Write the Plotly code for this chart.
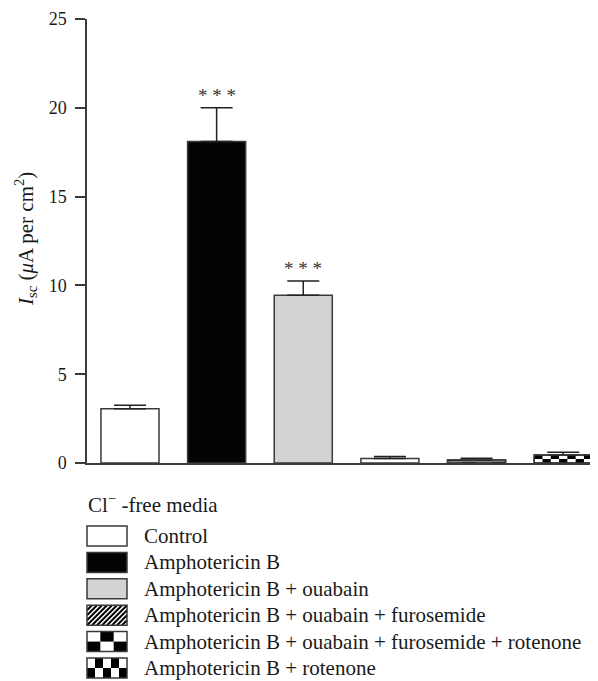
import plotly.graph_objects as go

# ---------------- data ----------------
categories = [
    "Control",
    "Amphotericin B",
    "Amphotericin B + ouabain",
    "Amphotericin B + ouabain + furosemide",
    "Amphotericin B + ouabain + furosemide + rotenone",
    "Amphotericin B + rotenone",
]
values = [3.05, 18.1, 9.45, 0.25, 0.17, 0.45]
errors = [0.2, 1.9, 0.8, 0.12, 0.1, 0.15]
significance = ["", "* * *", "* * *", "", "", ""]
fill_colors = ["white", "#030303", "#d3d3d3", "white", "white", "white"]
fills = ["solid", "solid", "solid", "hatch", "checker_large", "checker_small"]
y_ticks = [0, 5, 10, 15, 20, 25]
legend_title = "Cl<sup>−</sup> -free media"
y_title = "<i>I</i><sub>sc</sub> (<i>μ</i>A per cm<sup>2</sup>)"

# ---------------- layout constants ----------------
PAGE_OFF = 8                      # default body margin of the html page
W, H = 598 - PAGE_OFF, 681 - PAGE_OFF
# target positions (screen pixels) of the plot area
X_LEFT, X_RIGHT, Y_TOP, Y_BOTTOM = 87, 597, 19, 463
ML = X_LEFT - PAGE_OFF
MR = W - (X_RIGHT - PAGE_OFF)
MT = Y_TOP - PAGE_OFF
MB = H - (Y_BOTTOM - PAGE_OFF)
PW = W - ML - MR
PH = H - MT - MB
FONT = "Liberation Serif"
EDGE = "#3a3a3a"
TXT = "#1a1a1a"
BAR_W = 0.67


def px(x):
    return (x - X_LEFT) / PW


def py(y):
    return (Y_BOTTOM - y) / PH


fig = go.Figure()

pattern_shapes = ["/" if f == "hatch" else "" for f in fills]
fig.add_trace(go.Bar(
    x=categories,
    y=values,
    width=BAR_W,
    marker=dict(
        color=fill_colors,
        line=dict(color=EDGE, width=1.5),
        pattern=dict(shape=pattern_shapes, fgcolor="black", bgcolor="white",
                     fillmode="replace", size=6, solidity=0.4),
    ),
    error_y=dict(type="data", symmetric=False, array=errors,
                 arrayminus=[0] * len(values), color="#222", thickness=1.5, width=16),
    showlegend=False,
))

shapes = []
# checker fills on bars, computed from data values
for i, f in enumerate(fills):
    if f.startswith("checker"):
        cols = 4 if f == "checker_large" else 7
        rows = 2
        x0 = i - BAR_W / 2
        cw = BAR_W / cols
        ch = values[i] / rows
        for r in range(rows):
            for c in range(cols):
                if (r + c) % 2 == 1:
                    shapes.append(dict(type="rect", xref="x", yref="y",
                                       x0=x0 + c * cw, x1=x0 + (c + 1) * cw,
                                       y0=r * ch, y1=(r + 1) * ch,
                                       fillcolor="black", line=dict(width=0), layer="above"))
        shapes.append(dict(type="rect", xref="x", yref="y", x0=x0, x1=x0 + BAR_W,
                           y0=0, y1=values[i], line=dict(color=EDGE, width=1.5),
                           fillcolor="rgba(0,0,0,0)", layer="above"))

annotations = []
for i, s in enumerate(significance):
    if s:
        annotations.append(dict(x=categories[i], y=values[i] + errors[i], xref="x", yref="y",
                                text=s, showarrow=False, yanchor="bottom", yshift=0,
                                font=dict(family=FONT, size=19, color="#333")))

# y axis title
annotations.append(dict(x=px(25), y=py(239), xref="paper", yref="paper", text=y_title,
                        textangle=-90, showarrow=False, xanchor="center", yanchor="middle",
                        font=dict(family=FONT, size=21, color=TXT)))

# ---------------- custom legend ----------------
LX0, LX1 = 87, 127
SW_H = 20
ROW0, ROW_STEP = 536, 26.4
LEG_FS = 21
annotations.append(dict(x=px(86), y=py(503), xref="paper", yref="paper", text=legend_title,
                        showarrow=False, xanchor="left", yanchor="middle",
                        font=dict(family=FONT, size=LEG_FS, color=TXT)))

for k, (name, f, col) in enumerate(zip(categories, fills, fill_colors)):
    cy = ROW0 + k * ROW_STEP
    top, bot = cy - SW_H / 2, cy + SW_H / 2
    shapes.append(dict(type="rect", xref="paper", yref="paper", x0=px(LX0), x1=px(LX1),
                       y0=py(bot), y1=py(top), fillcolor=col, line=dict(width=0)))
    if f == "hatch":
        step = 5
        xs = LX0 - SW_H
        while xs < LX1:
            sx, sy = xs, bot
            ex, ey = xs + SW_H, top
            if sx < LX0:
                sy = bot - (LX0 - sx)
                sx = LX0
            if ex > LX1:
                ey = top + (ex - LX1)
                ex = LX1
            if ex > sx:
                shapes.append(dict(type="line", xref="paper", yref="paper",
                                   x0=px(sx), y0=py(sy), x1=px(ex), y1=py(ey),
                                   line=dict(color="black", width=2)))
            xs += step
    elif f.startswith("checker"):
        cols = 3 if f == "checker_large" else 5
        cw = (LX1 - LX0) / cols
        chh = SW_H / 2
        for r in range(2):
            for c in range(cols):
                if (r + c) % 2 == 1:
                    shapes.append(dict(type="rect", xref="paper", yref="paper",
                                       x0=px(LX0 + c * cw), x1=px(LX0 + (c + 1) * cw),
                                       y0=py(top + r * chh + chh), y1=py(top + r * chh),
                                       fillcolor="black", line=dict(width=0)))
    shapes.append(dict(type="rect", xref="paper", yref="paper", x0=px(LX0), x1=px(LX1),
                       y0=py(bot), y1=py(top), fillcolor="rgba(0,0,0,0)",
                       line=dict(color=EDGE, width=1.5)))
    annotations.append(dict(x=px(142), y=py(cy), xref="paper", yref="paper", text=name,
                            showarrow=False, xanchor="left", yanchor="middle",
                            font=dict(family=FONT, size=LEG_FS, color=TXT)))

fig.update_layout(
    width=W, height=H,
    margin=dict(l=ML, r=MR, t=MT, b=MB, pad=0),
    paper_bgcolor="white", plot_bgcolor="white",
    font=dict(family=FONT, color=TXT),
    showlegend=False,
    shapes=shapes,
    annotations=annotations,
    xaxis=dict(type="category", range=[-0.496, 5.39], showticklabels=False, ticks="",
               showline=True, linecolor=EDGE, linewidth=1.5, showgrid=False, zeroline=False,
               fixedrange=True),
    yaxis=dict(range=[0, 25], tickvals=y_ticks, ticks="outside", ticklen=10, tickwidth=1.5,
               tickcolor=EDGE, showline=True, linecolor=EDGE, linewidth=1.5, showgrid=False,
               zeroline=False, tickfont=dict(family=FONT, size=18, color=TXT),
               ticklabelstandoff=5),
)

fig.write_html("out.html")
